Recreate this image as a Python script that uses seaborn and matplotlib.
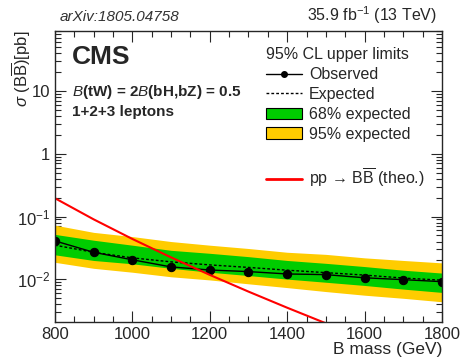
import numpy as np
import pandas as pd
import seaborn as sns
import matplotlib.pyplot as plt
from matplotlib.lines import Line2D
from matplotlib.patches import Patch
from matplotlib.ticker import FixedLocator, FixedFormatter, MultipleLocator

# data
mass = [800, 900, 1000, 1100, 1200, 1300, 1400, 1500, 1600, 1700, 1800]
observed = [0.041, 0.027, 0.0205, 0.0158, 0.0141, 0.0133, 0.0122, 0.0119, 0.0106, 0.0099, 0.0092]
expected = [0.035, 0.027, 0.022, 0.019, 0.017, 0.0155, 0.014, 0.0128, 0.0117, 0.0105, 0.0097]
band68_hi = [0.052, 0.042, 0.035, 0.029, 0.026, 0.023, 0.020, 0.018, 0.016, 0.014, 0.0126]
band68_lo = [0.0246, 0.020, 0.0177, 0.0150, 0.0130, 0.0115, 0.0101, 0.0090, 0.0080, 0.0070, 0.0062]
band95_hi = [0.073, 0.056, 0.048, 0.040, 0.035, 0.031, 0.027, 0.025, 0.022, 0.020, 0.0183]
band95_lo = [0.0187, 0.0150, 0.0130, 0.0110, 0.0098, 0.0085, 0.0074, 0.0064, 0.0056, 0.0050, 0.0044]
theo_mass = [800, 900, 1000, 1100, 1200, 1300, 1400, 1500, 1600]
theo_xsec = [0.196, 0.0903, 0.0440, 0.0224, 0.0118, 0.00639, 0.00354, 0.00200, 0.00115]

df = pd.DataFrame({'mass': mass, 'obs': observed, 'exp': expected})
theo = pd.DataFrame({'mass': theo_mass, 'xsec': theo_xsec})

sns.set_style("ticks")
plt.rcParams['font.family'] = ['Liberation Sans', 'DejaVu Sans']
plt.rcParams['mathtext.fontset'] = 'custom'
plt.rcParams['mathtext.rm'] = 'Liberation Sans'
plt.rcParams['mathtext.it'] = 'Liberation Sans:italic'
plt.rcParams['mathtext.bf'] = 'Liberation Sans:bold'

fig = plt.figure(figsize=(4.61, 3.63), dpi=100)
ax = fig.add_axes([0.119, 0.113, 0.840, 0.802])

green = '#00cc00'
yellow = '#ffcc00'
ax.fill_between(mass, band95_lo, band95_hi, color=yellow, lw=0)
ax.fill_between(mass, band68_lo, band68_hi, color=green, lw=0)
sns.lineplot(data=df, x='mass', y='exp', ax=ax, color='black', lw=1.0, linestyle=(0, (2, 1.5)))
sns.lineplot(data=df, x='mass', y='obs', ax=ax, color='black', lw=1.0, marker='o', markersize=6,
             markeredgecolor='black')
sns.lineplot(data=theo, x='mass', y='xsec', ax=ax, color='#ff0000', lw=1.5)

ax.set_yscale('log')
ax.set_xlim(800, 1800)
ax.set_ylim(0.0021, 90)
ax.set_xlabel('')
ax.set_ylabel('')

fs = 11.5
ax.xaxis.set_major_locator(MultipleLocator(200))
ax.xaxis.set_minor_locator(MultipleLocator(50))
ax.yaxis.set_major_locator(FixedLocator([0.01, 0.1, 1, 10]))
ax.yaxis.set_major_formatter(FixedFormatter(['$10^{-2}$', '$10^{-1}$', '1', '10']))
ax.tick_params(which='both', direction='in', top=True, right=True, labelsize=12, width=0.8)
ax.tick_params(which='major', length=8)
ax.tick_params(which='minor', length=4)
for s in ax.spines.values():
    s.set_linewidth(1.0)

fig.text(0.959, 0.025, 'B mass (GeV)', ha='right', fontsize=12.5)
fig.text(0.022, 0.915, r'$\sigma$ (B$\overline{\rm B}$)[pb]', rotation=90, va='top', ha='left', fontsize=12)
fig.text(0.13, 0.943, 'arXiv:1805.04758', style='italic', fontsize=11, color='#333333')
fig.text(0.948, 0.943, '35.9 fb$^{-1}$ (13 TeV)', ha='right', fontsize=11.5)
ax.text(0.045, 0.95, 'CMS', transform=ax.transAxes, fontsize=19, fontweight='bold', va='top')
ax.text(0.045, 0.82, r'$\it{B}$(tW) = 2$\it{B}$(bH,bZ) = 0.5', transform=ax.transAxes,
        fontsize=11, fontweight='bold', va='top')
ax.text(0.045, 0.745, '1+2+3 leptons', transform=ax.transAxes, fontsize=11, fontweight='bold', va='top')

handles = [
    Line2D([], [], color='black', lw=1.0, marker='o', markersize=4),
    Line2D([], [], color='black', lw=1.0, linestyle=(0, (2, 1.5))),
    Patch(facecolor=green, edgecolor='black', lw=0.8),
    Patch(facecolor=yellow, edgecolor='black', lw=0.8),
    Line2D([], [], color='none'),
    Line2D([], [], color='#ff0000', lw=2),
]
labels = ['Observed', 'Expected', '68% expected', '95% expected', ' ', 'pp \u2192 B$\\overline{\\rm B}$ (theo.)']
leg = ax.legend(handles, labels, title='95% CL upper limits', loc='upper left',
                bbox_to_anchor=(0.53, 0.965), frameon=False, fontsize=fs, title_fontsize=fs,
                handlelength=2.2, handletextpad=0.45, labelspacing=0.3, borderaxespad=0)
leg._legend_box.align = 'left'

fig.savefig('out.png', dpi=100)
